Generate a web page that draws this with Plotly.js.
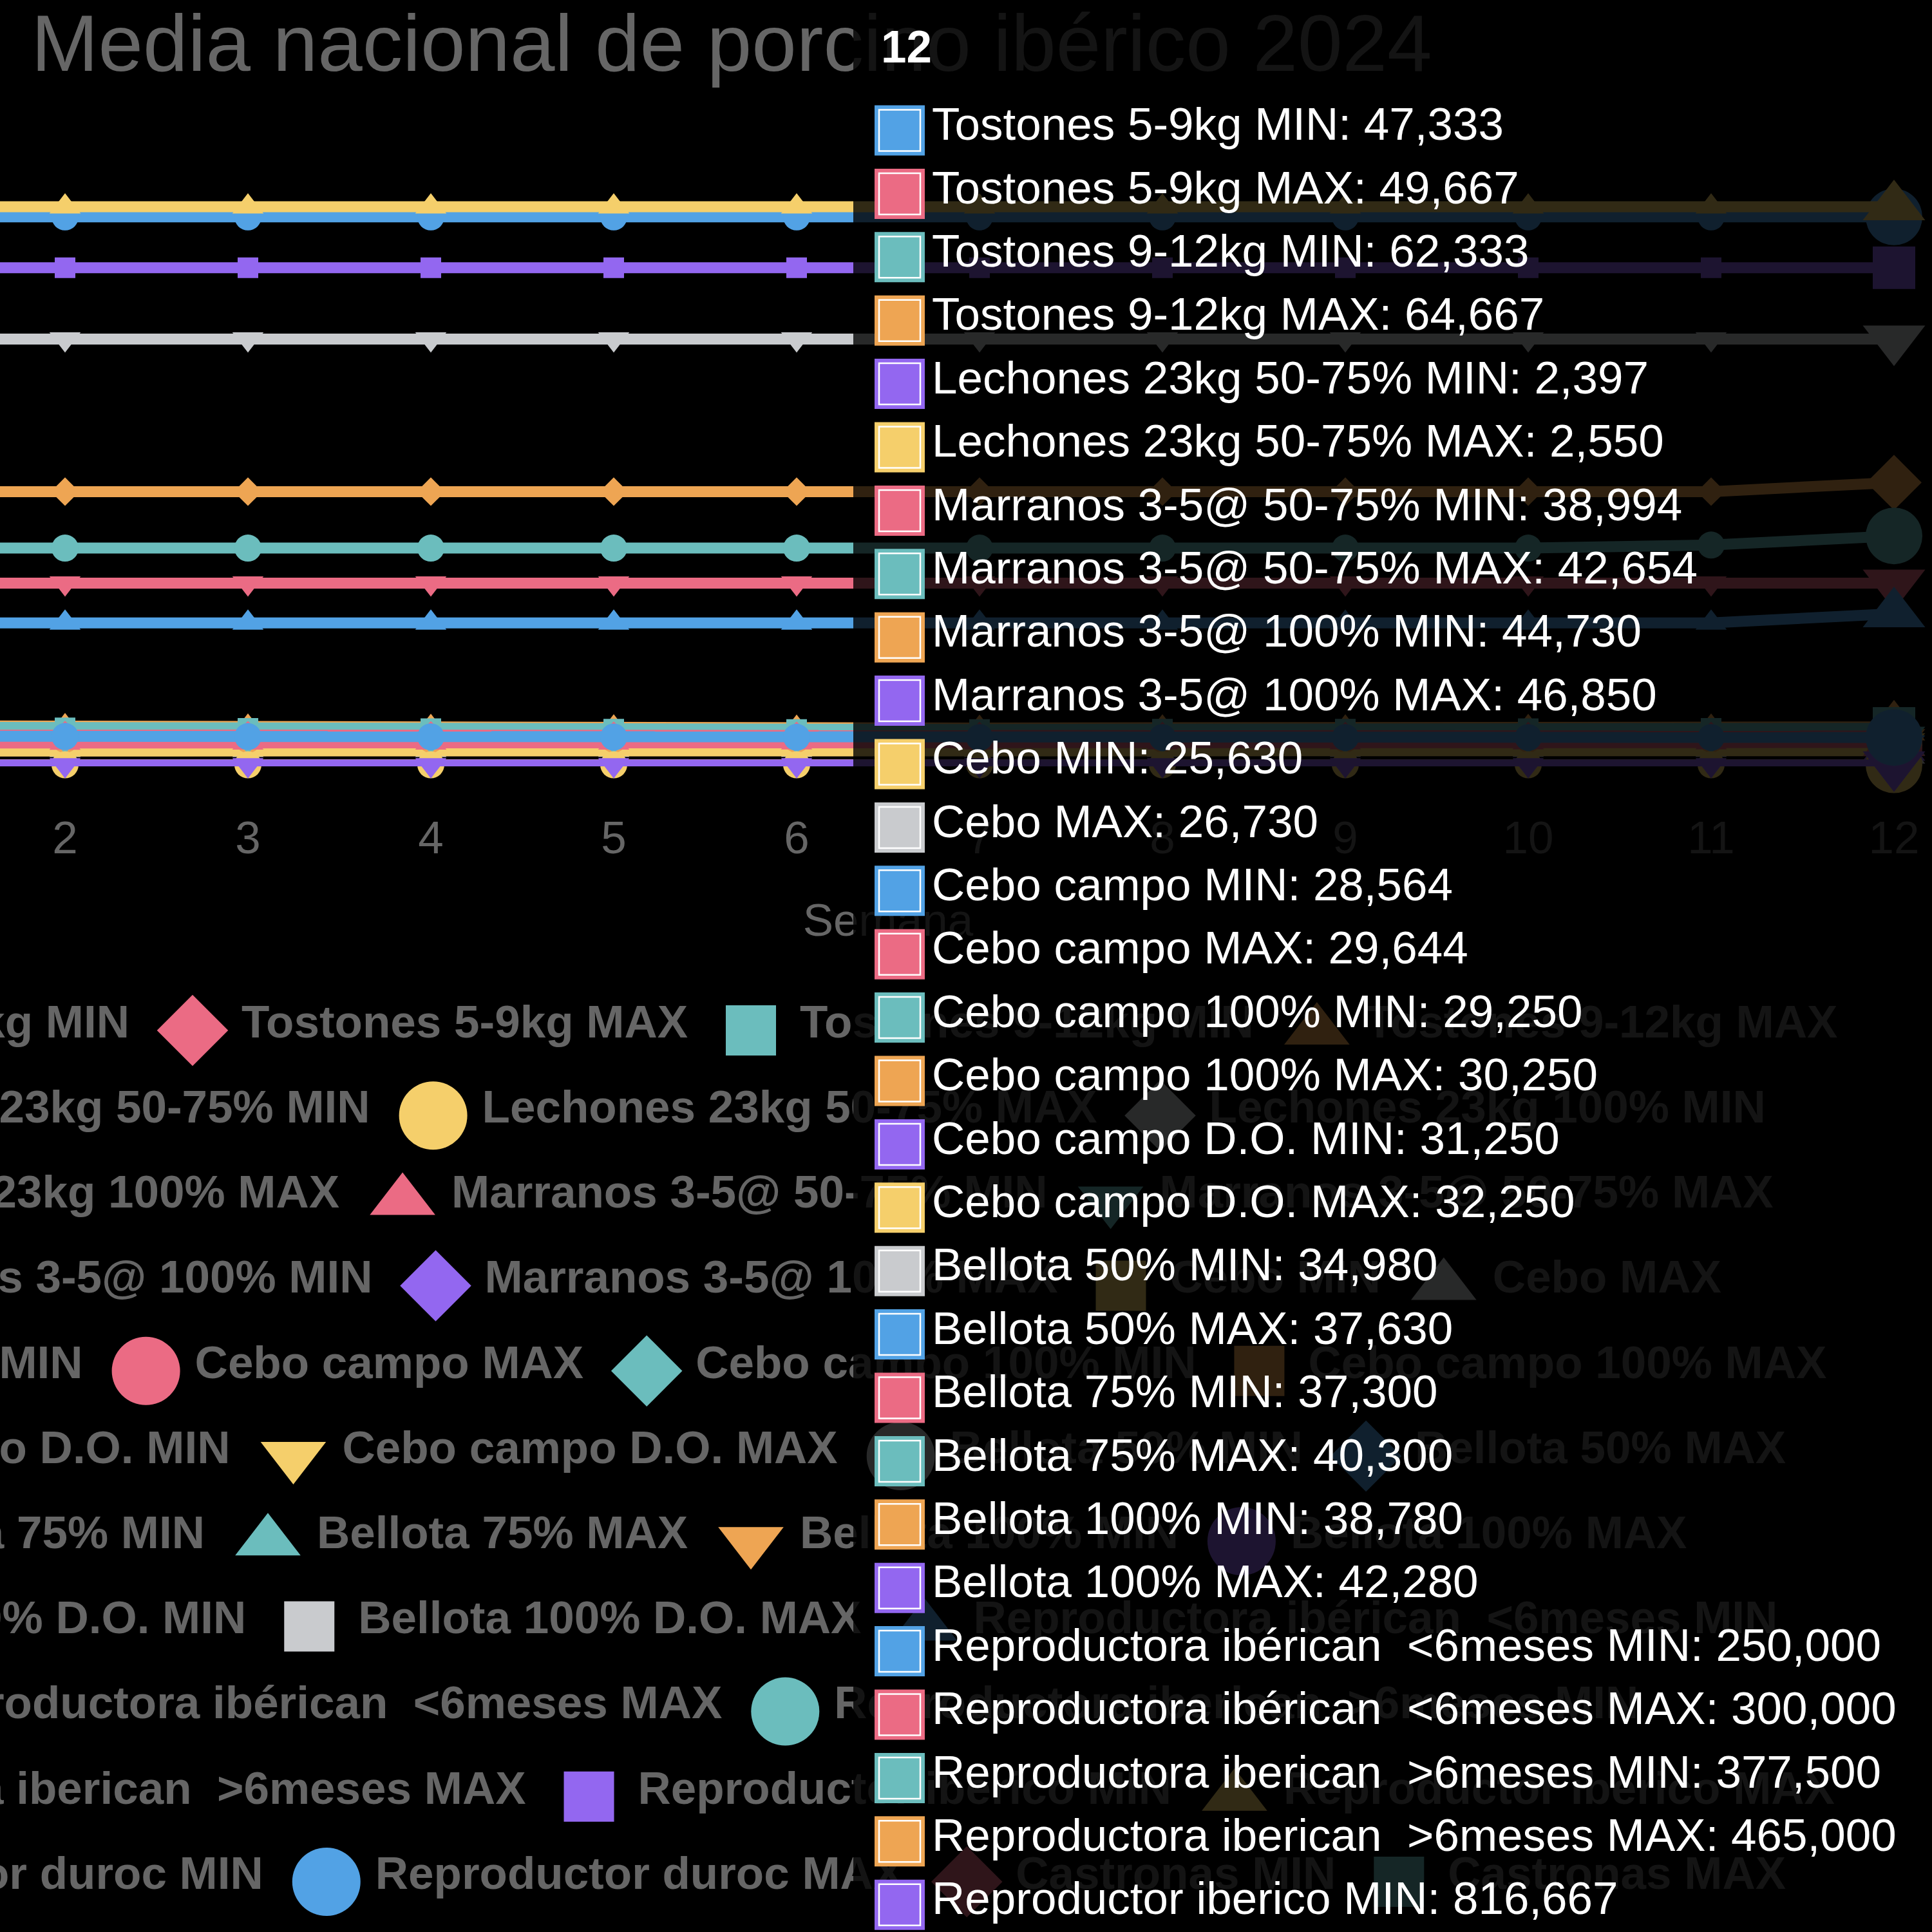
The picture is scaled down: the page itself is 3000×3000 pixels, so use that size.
<!DOCTYPE html>
<html><head><meta charset="utf-8">
<script src="https://cdn.plot.ly/plotly-3.0.1.min.js"></script>
<style>
html,body{margin:0;padding:0;background:#000;width:3000px;height:3000px;overflow:hidden;}
#chart{position:absolute;left:-728px;top:0;width:3728px;height:3200px;}
#tip{position:absolute;left:0;top:0;width:3000px;height:3000px;pointer-events:none;}
</style></head><body>
<div id="chart"></div><div id="tip"></div>
<script>
// ---------------- DATA ----------------
const weeks = [1,2,3,4,5,6,7,8,9,10,11,12];
const seriesNames = [
  'Tostones 5-9kg MIN','Tostones 5-9kg MAX','Tostones 9-12kg MIN','Tostones 9-12kg MAX',
  'Lechones 23kg 50-75% MIN','Lechones 23kg 50-75% MAX','Lechones 23kg 100% MIN','Lechones 23kg 100% MAX',
  'Marranos 3-5@ 50-75% MIN','Marranos 3-5@ 50-75% MAX','Marranos 3-5@ 100% MIN','Marranos 3-5@ 100% MAX',
  'Cebo MIN','Cebo MAX','Cebo campo MIN','Cebo campo MAX',
  'Cebo campo 100% MIN','Cebo campo 100% MAX','Cebo campo D.O. MIN','Cebo campo D.O. MAX',
  'Bellota 50% MIN','Bellota 50% MAX','Bellota 75% MIN','Bellota 75% MAX',
  'Bellota 100% MIN','Bellota 100% MAX','Bellota 100% D.O. MIN','Bellota 100% D.O. MAX',
  'Reproductora ibérican  <6meses MIN','Reproductora ibérican  <6meses MAX',
  'Reproductora iberican  >6meses MIN','Reproductora iberican  >6meses MAX',
  'Reproductor iberico MIN','Reproductor iberico MAX','Reproductor duroc MIN','Reproductor duroc MAX',
  'Castronas MIN','Castronas MAX'
];
const tostones59Min   = [49.333,49.000,48.667,48.333,48.000,47.667,47.333,47.333,47.333,47.333,47.333,47.333];
const tostones59Max   = [51.667,51.333,51.000,50.667,50.333,50.000,49.667,49.667,49.667,49.667,49.667,49.667];
const tostones912Min  = [64.333,63.000,62.333,61.667,61.000,60.333,60.333,61.000,61.000,61.667,62.333,62.333];
const tostones912Max  = [66.667,65.333,64.667,64.000,63.333,62.667,62.667,63.333,63.333,64.000,64.667,64.667];
const lechones5075Min = [2.450,2.450,2.440,2.430,2.420,2.410,2.400,2.400,2.397,2.397,2.397,2.397];
const lechones5075Max = [2.600,2.600,2.590,2.580,2.570,2.560,2.550,2.550,2.550,2.550,2.550,2.550];
const lechones100Min  = [null,null,null,null,null,null,null,null,null,null,null,null];
const lechones100Max  = [null,null,null,null,null,null,null,null,null,null,null,null];
const marranos5075Min = [38.200,38.300,38.400,38.500,38.600,38.700,38.800,38.900,38.994,38.994,38.994,38.994];
const marranos5075Max = [41.900,42.000,42.100,42.200,42.300,42.400,42.500,42.600,42.654,42.654,42.654,42.654];
const marranos100Min  = [44.000,44.100,44.200,44.300,44.400,44.500,44.600,44.700,44.730,44.730,44.730,44.730];
const marranos100Max  = [46.100,46.200,46.300,46.400,46.500,46.600,46.700,46.800,46.850,46.850,46.850,46.850];
const ceboMin         = [25.100,25.200,25.300,25.400,25.500,25.600,25.630,25.630,25.630,25.630,25.630,25.630];
const ceboMax         = [26.200,26.300,26.400,26.500,26.600,26.700,26.730,26.730,26.730,26.730,26.730,26.730];
const ceboCampoMin    = [28.100,28.200,28.300,28.400,28.500,28.564,28.564,28.564,28.564,28.564,28.564,28.564];
const ceboCampoMax    = [29.200,29.300,29.400,29.500,29.600,29.644,29.644,29.644,29.644,29.644,29.644,29.644];
const ceboCampo100Min = [29.250,29.250,29.250,29.250,29.250,29.250,29.250,29.250,29.250,29.250,29.250,29.250];
const ceboCampo100Max = [30.250,30.250,30.250,30.250,30.250,30.250,30.250,30.250,30.250,30.250,30.250,30.250];
const ceboCampoDOMin  = [31.250,31.250,31.250,31.250,31.250,31.250,31.250,31.250,31.250,31.250,31.250,31.250];
const ceboCampoDOMax  = [32.250,32.250,32.250,32.250,32.250,32.250,32.250,32.250,32.250,32.250,32.250,32.250];
const bellota50Min    = [34.980,34.980,34.980,34.980,34.980,34.980,34.980,34.980,34.980,34.980,34.980,34.980];
const bellota50Max    = [37.630,37.630,37.630,37.630,37.630,37.630,37.630,37.630,37.630,37.630,37.630,37.630];
const bellota75Min    = [37.300,37.300,37.300,37.300,37.300,37.300,37.300,37.300,37.300,37.300,37.300,37.300];
const bellota75Max    = [40.300,40.300,40.300,40.300,40.300,40.300,40.300,40.300,40.300,40.300,40.300,40.300];
const bellota100Min   = [38.780,38.780,38.780,38.780,38.780,38.780,38.780,38.780,38.780,38.780,38.780,38.780];
const bellota100Max   = [42.280,42.280,42.280,42.280,42.280,42.280,42.280,42.280,42.280,42.280,42.280,42.280];
const bellota100DOMin = [null,null,null,null,null,null,null,null,null,null,null,null];
const bellota100DOMax = [null,null,null,null,null,null,null,null,null,null,null,null];
const reproLt6Min     = [235,235,235,235,235,235,235,235,235,235,235,250];
const reproLt6Max     = [300,300,300,300,300,300,300,300,300,300,300,300];
const reproGt6Min     = [357.5,357.5,357.5,357.5,357.5,357.5,357.5,357.5,357.5,357.5,362.5,377.5];
const reproGt6Max     = [450,450,450,450,450,450,450,450,450,450,450,465];
const reproIbMin      = [816.667,816.667,816.667,816.667,816.667,816.667,816.667,816.667,816.667,816.667,816.667,816.667];
const reproIbMax      = [916.667,916.667,916.667,916.667,916.667,916.667,916.667,916.667,916.667,916.667,916.667,916.667];
const reproDurocMin   = [700,700,700,700,700,700,700,700,700,700,700,700];
const reproDurocMax   = [900,900,900,900,900,900,900,900,900,900,900,900];
const castronasMin    = [31.000,31.000,31.000,31.000,31.000,31.000,31.000,31.000,31.000,31.000,31.000,31.000];
const castronasMax    = [34.000,34.000,34.000,34.000,34.000,34.000,34.000,34.000,34.000,34.000,34.000,34.000];

const seriesValues = [
  tostones59Min, tostones59Max, tostones912Min, tostones912Max,
  lechones5075Min, lechones5075Max, lechones100Min, lechones100Max,
  marranos5075Min, marranos5075Max, marranos100Min, marranos100Max,
  ceboMin, ceboMax, ceboCampoMin, ceboCampoMax,
  ceboCampo100Min, ceboCampo100Max, ceboCampoDOMin, ceboCampoDOMax,
  bellota50Min, bellota50Max, bellota75Min, bellota75Max,
  bellota100Min, bellota100Max, bellota100DOMin, bellota100DOMax,
  reproLt6Min, reproLt6Max, reproGt6Min, reproGt6Max,
  reproIbMin, reproIbMax, reproDurocMin, reproDurocMax,
  castronasMin, castronasMax
];
const titleText = 'Media nacional de porcino ibérico 2024';
const xTitleText = 'Semana';
const hoverWeek = 12;

// ---------------- STYLE / LAYOUT CONSTANTS ----------------
const F = '"Liberation Sans", Arial, Helvetica, sans-serif';
const palette = ['#52a2e5','#eb6b84','#6bbdbd','#eea553','#9367f0','#f5cf6b','#c9cbce'];
const symbolCycle = ['circle','diamond','square','triangle-up','triangle-down'];
const normalSize = {'circle':42,'diamond':34,'square':32,'triangle-up':42,'triangle-down':42};
const hoverSize  = {'circle':88,'diamond':66,'square':66,'triangle-up':84,'triangle-down':84};
const legendSize = {'circle':106,'diamond':85,'square':78,'triangle-up':88,'triangle-down':88};
const W = 3728, H = 3200, OFF = 728;
const M = {l:0, r:59, t:242, b:0};
const plotW = W - M.l - M.r, plotH = H - M.t - M.b;
const mainLeftPx = 545;                 // div px where week 1 sits
const yZeroPx = 1190;
const mainDomainBottom = (H - M.b - yZeroPx) / plotH;
const D2 = 0.62;
const viewLeft = M.l - OFF, viewRight = W - M.r - OFF;

const esc = s => s.replace(/&/g,'&amp;').replace(/</g,'&lt;').replace(/>/g,'&gt;').replace(/  /g,' \u00a0');
const fmt = v => v.toFixed(3).replace('.', ',');
const hoverIdx = weeks.indexOf(hoverWeek);

// ---------------- MAIN CHART ----------------
const traces = [];
for (let i = seriesNames.length - 1; i >= 0; i--) {
  const sym = symbolCycle[i % symbolCycle.length];
  const col = palette[i % palette.length];
  traces.push({
    type:'scatter', mode:'lines+markers', name: seriesNames[i],
    x: weeks, y: seriesValues[i], xaxis:'x', yaxis:'y',
    line:{color:col, width:17},
    marker:{symbol:sym, color:col, opacity:1, line:{width:0},
      size: weeks.map(w => w === hoverWeek ? hoverSize[sym] : normalSize[sym])},
    cliponaxis:false, hoverinfo:'skip', showlegend:false
  });
}

// legend (Chart.js-style centred rows)
const rowStarts = [0,4,7,10,14,18,22,26,29,31,34];
const canvas = document.createElement('canvas');
const ctx = canvas.getContext('2d');
ctx.font = 'bold 71px "Liberation Sans", Arial, sans-serif';
const legCenterX = 1137, legRow0 = 1600, legPitch = 132.2;
const symToText = 115, symHalf = 39, itemGap = 59;
const lgX = [], lgY = [], lgSym = [], lgCol = [], lgSize = [], ltX = [], ltY = [], ltText = [];
rowStarts.forEach((start, r) => {
  const end = r + 1 < rowStarts.length ? rowStarts[r+1] : seriesNames.length;
  const widths = [];
  for (let i = start; i < end; i++) widths.push(ctx.measureText(seriesNames[i]).width);
  const rowW = widths.reduce((a,b) => a + b + symToText, 0) + itemGap * (widths.length - 1);
  let left = legCenterX - rowW / 2;
  const y = legRow0 + legPitch * r;
  for (let i = start; i < end; i++) {
    const sym = symbolCycle[i % symbolCycle.length];
    lgX.push(left + symHalf); lgY.push(y); lgSym.push(sym);
    lgCol.push(palette[i % palette.length]); lgSize.push(legendSize[sym]);
    ltX.push(left + symToText); ltY.push(y - 7); ltText.push('<b>' + esc(seriesNames[i]) + '</b>');
    left += symToText + widths[i - start] + itemGap;
  }
});
traces.push({type:'scatter', mode:'markers', x:lgX, y:lgY, xaxis:'x2', yaxis:'y2',
  marker:{symbol:lgSym, color:lgCol, size:lgSize, opacity:1, line:{width:0}},
  cliponaxis:false, hoverinfo:'skip', showlegend:false});
traces.push({type:'scatter', mode:'text', x:ltX, y:ltY, xaxis:'x2', yaxis:'y2',
  text:ltText, textposition:'middle right',
  textfont:{family:F, size:71, color:'#666666'},
  cliponaxis:false, hoverinfo:'skip', showlegend:false});

const layout = {
  width: W, height: H,
  paper_bgcolor:'#000000', plot_bgcolor:'#000000',
  margin: M,
  showlegend:false,
  title:{text:titleText, font:{family:F, size:125, color:'#666666'},
    xref:'container', x:0.5, xanchor:'center', yref:'container', y:1 - 22 / H, yanchor:'top'},
  xaxis:{range:[weeks[0], weeks[weeks.length-1]], domain:[(mainLeftPx - M.l) / plotW, 1], anchor:'y',
    tickmode:'array', tickvals:weeks, ticktext:weeks.map(String),
    showgrid:false, zeroline:false, showline:false, ticks:'',
    tickfont:{family:F, size:71, color:'#666666'}, ticklabelstandoff:63,
    title:{text:xTitleText, font:{family:F, size:71, color:'#666666'}, standoff:64}},
  yaxis:{range:[0,1000], domain:[mainDomainBottom,1], anchor:'x', visible:false},
  xaxis2:{range:[viewLeft, viewRight], domain:[0,1], anchor:'y2', visible:false},
  yaxis2:{range:[H - M.b, H - M.b - D2 * plotH], domain:[0,D2], anchor:'x2', visible:false}
};
Plotly.newPlot('chart', traces, layout, {staticPlot:true, displayModeBar:false});

// ---------------- TOOLTIP OVERLAY (week 12) ----------------
const tipRows = [];
seriesNames.forEach((n, i) => {
  const v = seriesValues[i][hoverIdx];
  if (v !== null && v !== undefined) tipRows.push({n, v, c: palette[i % palette.length]});
});
const tipLeft = 1325, boxCX = 1397, textX = 1447, row0 = 202.5, pitch = 98.4;
const bx = [], by = [], bc = [], tx = [], ty = [], tt = [];
tipRows.forEach((r, j) => {
  bx.push(boxCX); by.push(row0 + pitch * j); bc.push(r.c);
  tx.push(textX); ty.push(row0 - 3 + pitch * j); tt.push(esc(r.n) + ': ' + fmt(r.v));
});
const tipTraces = [
  {type:'scatter', mode:'markers', x:bx, y:by, marker:{symbol:'square', size:78, color:bc, opacity:1, line:{width:0}}, hoverinfo:'skip'},
  {type:'scatter', mode:'markers', x:bx, y:by, marker:{symbol:'square', size:64, color:bc, opacity:1, line:{width:2.5, color:'#ffffff'}}, hoverinfo:'skip'},
  {type:'scatter', mode:'text', x:tx, y:ty, text:tt, textposition:'middle right',
    textfont:{family:F, size:71, color:'#ffffff'}, hoverinfo:'skip'},
  {type:'scatter', mode:'text', x:[1368], y:[79], text:['<b>' + String(hoverWeek) + '</b>'], textposition:'middle right',
    textfont:{family:F, size:71, color:'#ffffff'}, hoverinfo:'skip'}
];
const tipLayout = {
  width:3000, height:3000, margin:{l:0,r:0,t:0,b:0,pad:0},
  paper_bgcolor:'rgba(0,0,0,0)', plot_bgcolor:'rgba(0,0,0,0)', showlegend:false,
  xaxis:{range:[0,3000], visible:false, fixedrange:true},
  yaxis:{range:[3000,0], visible:false, fixedrange:true},
  shapes:[{type:'rect', xref:'x', yref:'y', x0:tipLeft, x1:3100, y0:-100, y1:3100,
    fillcolor:'rgba(0,0,0,0.8)', line:{width:0}, layer:'below'}]
};
Plotly.newPlot('tip', tipTraces, tipLayout, {staticPlot:true, displayModeBar:false});
</script>
</body></html>
